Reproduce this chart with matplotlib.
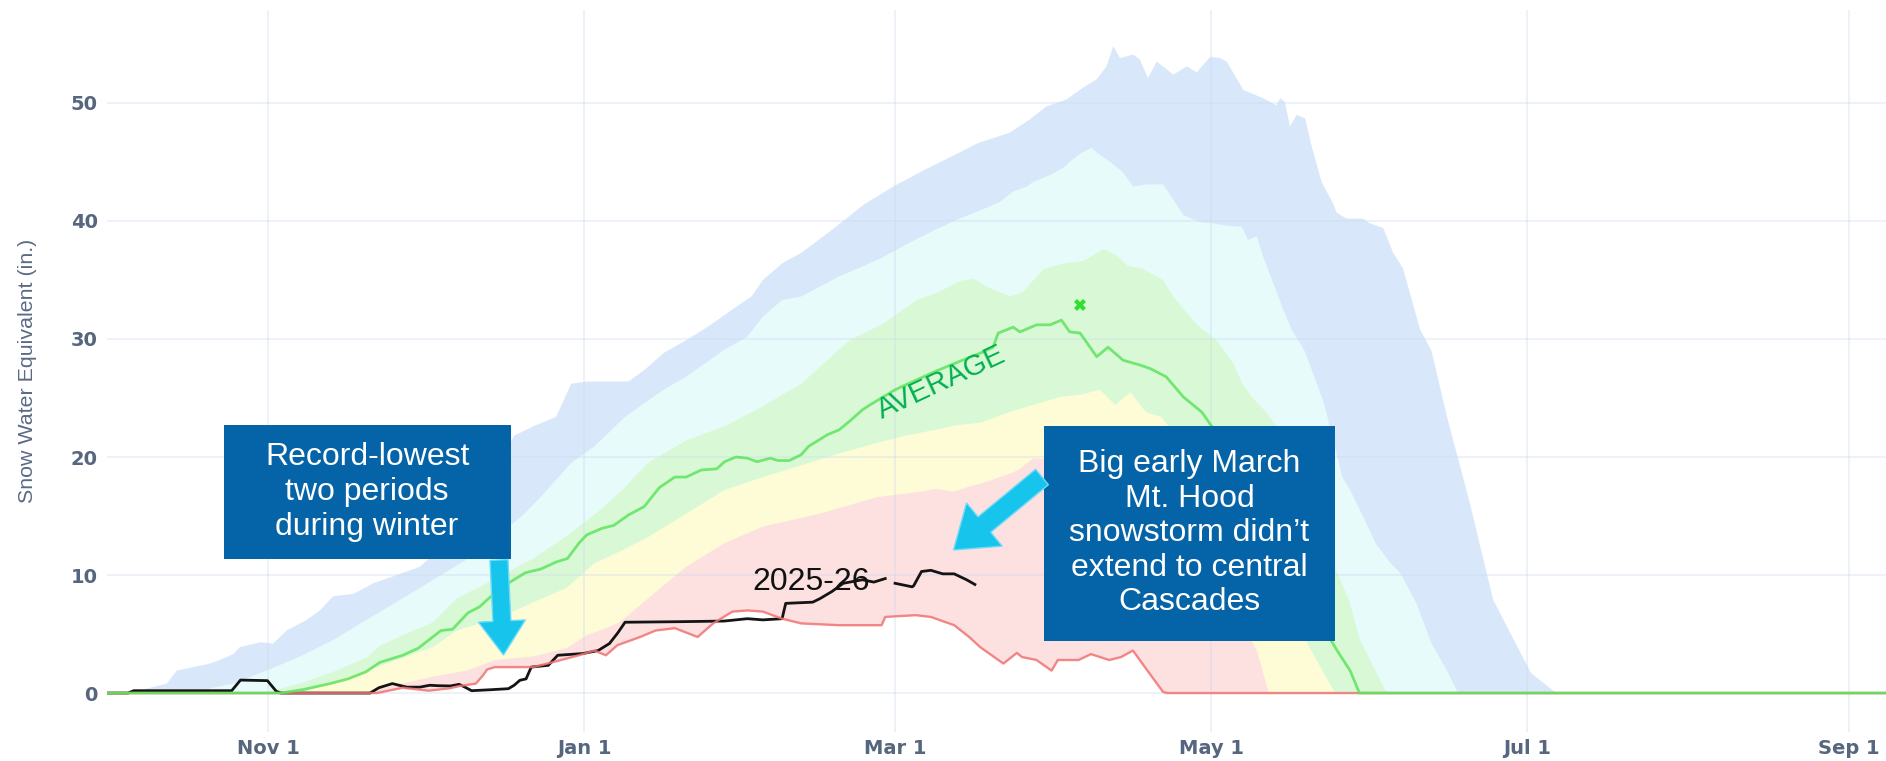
import numpy as np
import matplotlib
matplotlib.use("Agg")
import matplotlib.pyplot as plt
from matplotlib import font_manager
from matplotlib.patches import Rectangle, FancyArrow
from matplotlib.transforms import IdentityTransform

# ---- axis ticks (day of water year, day 0 = Oct 1) ----
month_ticks = [31, 92, 152, 213, 274, 336]
month_labels = ["Nov 1", "Jan 1", "Mar 1", "May 1", "Jul 1", "Sep 1"]
swe_ticks = [0, 10, 20, 30, 40, 50]
swe_labels = ["0", "10", "20", "30", "40", "50"]

# ---- percentile envelopes (inches of SWE) ----
max_days = [0, 5, 11.5, 13.4, 19.8, 21.7, 24.3, 25.6, 29.5, 32, 34.6, 38.5, 41, 43.6, 47.5, 51.3, 56.5, 60.3, 65, 70,
            74, 78.5, 82.2, 86.6, 89.5, 92.5, 100.6, 104, 107.3, 111.7, 116.1, 120.6, 124.3, 126.5, 130.2, 133.9, 140, 146, 152, 158,
            164, 168, 172.2, 174.2, 178, 181.2, 185.1, 188.3, 190.9, 192.8, 194.1, 195.4, 197.9, 199.2, 200.8, 202.5, 205.7, 208.3, 210.2, 212.8,
            214.7, 216, 219.2, 223, 225.6, 226.3, 227.2, 228.2, 229.5, 231.1, 232.4, 234.3, 236.5, 237.2, 239.1, 242.3, 243.6, 246.2, 248.1, 250,
            253.3, 255.5, 258.5, 262.9, 267.4, 274.7, 279, 280, 366]
max_swe = [0, 0.1, 0.8, 1.9, 2.5, 2.8, 3.3, 3.9, 4.3, 4.2, 5.3, 6.2, 7.0, 8.2, 8.4, 9.3, 10.1, 10.7, 12.5, 15.2,
           18.2, 21.8, 22.6, 23.4, 26.2, 26.4, 26.4, 27.5, 28.8, 29.9, 31.1, 32.5, 33.6, 35.0, 36.4, 37.3, 39.3, 41.4, 43.0, 44.4,
           45.7, 46.6, 47.2, 47.5, 48.6, 49.7, 50.3, 51.3, 52.0, 53.1, 54.8, 53.8, 54.1, 53.7, 52.1, 53.5, 52.4, 53.1, 52.6, 53.9,
           53.8, 53.5, 51.1, 50.4, 49.8, 50.4, 50.1, 48.0, 49.0, 48.7, 46.3, 43.3, 41.5, 40.7, 40.2, 40.2, 39.8, 39.4, 37.3, 36.0,
           30.8, 29.0, 23.4, 16.1, 7.9, 1.7, 0.2, 0, 0]

p90_days = [0, 18, 19.8, 24.3, 30.7, 37.2, 43.6, 50, 56.5, 62.9, 69.3, 75.8, 80, 83.6, 89.5, 94, 99.9, 107.3, 111.7, 119.1,
            123.5, 126.5, 130.2, 133.9, 141.2, 148.6, 155, 160, 165, 169, 172.2, 174.8, 177.4, 178.6, 181.9, 184.5, 185.7, 187.7, 189.9, 191.5,
            193.5, 196, 198, 200.5, 203.7, 205.7, 207.6, 210.8, 213.4, 216, 218.9, 220.1, 221.8, 223, 225, 226.9, 228.5, 230.9, 232.9, 234.8,
            238.3, 239.8, 242.7, 244.7, 247.6, 249.6, 252.6, 255.5, 258.5, 260.4, 261, 366]
p90_swe = [0, 0, 0.4, 0.8, 1.9, 3.1, 4.5, 6.2, 7.9, 9.6, 11.3, 13.5, 15.0, 16.6, 19.5, 20.9, 23.4, 25.7, 26.8, 29.1,
           30.2, 31.9, 33.3, 33.6, 35.3, 36.7, 38.2, 39.3, 40.3, 41.0, 41.6, 42.5, 42.9, 43.3, 43.9, 44.5, 45.0, 45.7, 46.2, 45.6,
           45.0, 44.1, 42.9, 43.1, 43.1, 41.8, 40.5, 39.9, 39.8, 39.6, 39.5, 38.4, 38.7, 37.0, 34.7, 32.5, 30.8, 29.1, 26.8, 24.5,
           18.3, 17.2, 14.6, 12.7, 11.0, 10.1, 7.6, 4.2, 1.9, 0.2, 0, 0]

p70_days = [0, 30, 32, 37.2, 43.6, 50, 52.6, 56.5, 62.9, 67.4, 75.8, 82.2, 88.6, 95.1, 98.9, 104.3, 111.7, 119.1, 126.5, 133.9,
            141.2, 143.3, 149.7, 156.2, 160, 164.5, 167.1, 170.3, 174.2, 176.7, 180.6, 184.4, 188.3, 192.2, 194.7, 196.9, 199.5, 203.7, 205.7, 208.3,
            210.5, 214, 217.2, 219, 221, 224, 225.5, 230, 235, 237, 239.5, 241.7, 246.6, 247.5, 366]
p70_swe = [0, 0, 0.2, 0.8, 1.8, 3.0, 4.0, 4.8, 6.0, 8.0, 9.9, 11.4, 13.3, 15.5, 17.0, 19.5, 21.4, 22.6, 24.3, 26.2,
           29.1, 29.9, 31.3, 33.3, 33.9, 34.9, 35.1, 34.3, 33.6, 34.0, 35.9, 36.4, 36.6, 37.6, 37.1, 36.2, 36.0, 35.0, 33.6, 32.2,
           31.1, 29.9, 28.0, 26.2, 25.0, 23.6, 22.6, 18.0, 12.5, 10.5, 8.0, 4.5, 0.2, 0, 0]

p30_days = [0, 38, 38.5, 50, 56.5, 62.9, 67.4, 75.8, 82.2, 88.6, 94, 98.9, 104.3, 111.7, 119.1, 126.5, 133.9, 141.2, 148.6, 154,
            159.7, 164, 168.4, 174, 180, 184, 188, 191.5, 194.5, 197.4, 200.4, 203.3, 204.8, 210, 215, 220, 225, 230, 232.3, 236.9, 366]
p30_swe = [0, 0, 0.2, 1.9, 2.9, 3.9, 5.3, 6.4, 7.7, 8.9, 11.0, 12.0, 13.2, 15.2, 17.2, 18.3, 19.3, 20.3, 21.2, 21.8,
           22.3, 22.7, 22.9, 23.8, 24.6, 25.1, 25.3, 25.7, 24.4, 25.5, 23.8, 23.4, 22.6, 19.5, 16.0, 12.0, 8.5, 5.5, 3.6, 0, 0]

p10_days = [0, 49, 50, 56, 62.9, 69.3, 74.8, 82.2, 88.6, 92.5, 95.1, 98.9, 104.3, 111.7, 119.1, 126.5, 137.5, 148.6, 156.8, 160,
            163.2, 166.4, 169.7, 174.8, 176.1, 178.7, 180.3, 185, 192, 198, 203, 208, 213, 217, 221.8, 224.1, 366]
p10_swe = [0, 0, 0.1, 0.7, 1.4, 1.9, 2.8, 3.1, 3.8, 4.9, 5.3, 6.0, 8.0, 10.7, 12.7, 14.1, 15.2, 16.6, 17.05, 17.3,
           17.05, 17.5, 17.9, 18.7, 19.0, 19.9, 19.8, 20.2, 20.4, 19.8, 18.3, 15.5, 11.5, 7.5, 3.6, 0, 0]

min_days = [0, 52, 54.2, 57, 62, 66, 68, 71.1, 72.5, 73.3, 74.8, 82.2, 85.8, 91, 94, 96.2, 98.4, 102.8, 105.8, 109.5,
            113.9, 116.9, 120.6, 123.5, 126.5, 130.2, 133.9, 141.2, 149.4, 150.1, 156, 158.9, 163.4, 166.3, 168.4, 170, 172.9, 175.5, 176.5, 179.3,
            182.2, 183.4, 187.4, 189.8, 193.3, 195.6, 197.9, 200.2, 203.7, 204.5, 366]
min_swe = [0, 0, 0.2, 0.45, 0.2, 0.4, 0.6, 0.8, 1.5, 2.0, 2.2, 2.2, 2.6, 3.2, 3.6, 3.2, 4.05, 4.75, 5.3, 5.5,
           4.75, 5.9, 6.9, 7.0, 6.9, 6.3, 5.9, 5.75, 5.75, 6.45, 6.6, 6.45, 5.75, 4.75, 3.9, 3.4, 2.5, 3.4, 3.05, 2.8,
           1.9, 2.8, 2.8, 3.3, 2.8, 3.05, 3.6, 2.2, 0.1, 0, 0]

median_days = [0, 33.5, 37.8, 43, 46.4, 49.9, 52.6, 57, 60, 64.4, 66.6, 69.6, 71.8, 74.8, 77.7, 80.7, 83.6, 86.6, 88.8, 91,
               92.5, 95.4, 97.7, 100.6, 103.6, 106.5, 109.5, 111.7, 114.6, 117.6, 119.1, 121.3, 123.5, 125.4, 127.9, 129.4, 131.6, 133.9, 135.3, 139,
               141.2, 143.4, 145.7, 147.1, 152, 156, 160, 165, 169, 170.9, 171.9, 174.8, 176.1, 179.3, 181.9, 184.1, 185.7, 187.7, 190.9, 193.1,
               196, 199.2, 201.2, 204.3, 207.6, 211.2, 213.1, 218, 224, 230, 234, 237.3, 239.8, 241.6, 366]
median_swe = [0, 0, 0.3, 0.8, 1.2, 1.8, 2.6, 3.2, 3.8, 5.3, 5.4, 6.8, 7.3, 8.5, 9.4, 10.2, 10.5, 11.1, 11.4, 12.7,
              13.4, 13.95, 14.2, 15.1, 15.8, 17.4, 18.3, 18.3, 18.9, 19.0, 19.6, 20.0, 19.9, 19.6, 19.9, 19.7, 19.7, 20.2, 20.9, 21.9,
              22.3, 23.1, 24.0, 24.4, 25.7, 26.5, 27.3, 28.2, 28.9, 29.3, 30.5, 31.0, 30.6, 31.2, 31.2, 31.6, 30.6, 30.5, 28.5, 29.3,
              28.2, 27.8, 27.5, 26.8, 25.1, 23.8, 22.6, 19.0, 14.5, 9.5, 6.0, 3.6, 1.9, 0, 0]

median_peak_day = [187.7]
median_peak_swe = [32.9]

# ---- current water year 2025-26 (nan marks a missing reading) ----
current_days = [0, 4, 5.1, 24, 25.7, 30.9, 32.6, 33.5, 50.7, 52.4, 55, 57.8, 60.3, 62.2, 64, 66.2, 67.9, 69, 70.3, 73.9,
                77.4, 78.5, 79.6, 80.8, 81.8, 85.1, 86.9, 91.8, 94.7, 96.9, 98.5, 99.9, 111, 119, 123.5, 126.5, 130.2, 130.9, 136.1, 137.5,
                139.8, 142, 145.7, 147.9, 150.1, 151, 152, 155.3, 155.6, 157.1, 158.9, 161.2, 163.4, 165.8, 167.4]
current_swe = [0, 0, 0.2, 0.2, 1.1, 1.05, 0.15, 0, 0, 0.45, 0.8, 0.5, 0.5, 0.66, 0.62, 0.6, 0.74, 0.5, 0.2, 0.28,
               0.37, 0.66, 1.08, 1.2, 2.2, 2.35, 3.2, 3.35, 3.6, 4.2, 5.1, 6.0, 6.05, 6.1, 6.3, 6.2, 6.3, 7.6, 7.7, 8.0,
               8.6, 9.3, 9.6, 9.4, 9.7, np.nan, 9.3, 9.0, 9.1, 10.3, 10.4, 10.1, 10.1, 9.6, 9.2]


def font_available(name):
    return any(f.name == name for f in font_manager.fontManager.ttflist)


TEXT_FONT = "Liberation Sans" if font_available("Liberation Sans") else "DejaVu Sans"
if font_available("Liberation Sans Narrow"):
    YLABEL_FONT, YLABEL_SIZE = "Liberation Sans Narrow", 18.5
elif TEXT_FONT == "Liberation Sans":
    YLABEL_FONT, YLABEL_SIZE = "Liberation Sans", 15.4
else:
    YLABEL_FONT, YLABEL_SIZE = "DejaVu Sans", 13.8

W, H = 1886, 761
fig = plt.figure(figsize=(W / 100, H / 100), dpi=100)
fig.patch.set_facecolor("white")

ax_left, ax_top, ax_bottom = 107.3, 9.7, 732.0
ax = fig.add_axes([ax_left / W, (H - ax_bottom) / H, 1 - ax_left / W, (ax_bottom - ax_top) / H])
ax.set_xlim(0, 343.2)
ax.set_ylim(-3.3, 57.9)


def band(top_d, top_v, low_d, low_v):
    xs = np.concatenate([np.asarray(top_d, float), np.asarray(low_d, float)[::-1]])
    ys = np.concatenate([np.asarray(top_v, float), np.asarray(low_v, float)[::-1]])
    return xs, ys


# Stacked percentile bands, each reaching down to the record-low line
band_specs = [
    (max_days, max_swe, "#d8e8fa"),
    (p90_days, p90_swe, "#e7fbfb"),
    (p70_days, p70_swe, "#d9f9d6"),
    (p30_days, p30_swe, "#fdfcd6"),
    (p10_days, p10_swe, "#fde0e0"),
]
for k, (dd, vv, col) in enumerate(band_specs):
    xs, ys = band(dd, vv, min_days, min_swe)
    ax.fill(xs, ys, color=col, lw=0, zorder=1 + 0.01 * k)

# light grid drawn through the bands
grid_kw = dict(color=(0.80, 0.85, 0.93), alpha=0.38, lw=1.3, zorder=2)
for t in month_ticks:
    ax.axvline(t, **grid_kw)
for t in swe_ticks:
    ax.axhline(t, **grid_kw)

ax.plot(current_days, current_swe, color="#141414", lw=2.0, zorder=3, solid_joinstyle="round")
ax.plot(min_days, min_swe, color="#f07474", lw=1.7, alpha=0.85, zorder=4)
ax.plot(median_days, median_swe, color="#5fe35f", lw=2.0, alpha=0.85, zorder=4)
ax.plot(median_peak_day, median_peak_swe, ls="none", marker="X", ms=9, color="#2fe02f",
        markeredgewidth=0, zorder=5)

ax.set_xticks(month_ticks)
ax.set_xticklabels(month_labels)
ax.set_yticks(swe_ticks)
ax.set_yticklabels(swe_labels)
ax.tick_params(length=0, labelsize=14, labelcolor="#56667f", pad=7)
ax.tick_params(axis="x", pad=5)
for lab in ax.get_xticklabels() + ax.get_yticklabels():
    lab.set_fontfamily("DejaVu Sans")
    lab.set_fontweight("bold")
for s in ax.spines.values():
    s.set_visible(False)
ax.set_facecolor("none")

fig.text(28 / W, 1 - 371 / H, "Snow Water Equivalent (in.)", rotation=90, ha="center", va="center",
         fontsize=YLABEL_SIZE, color="#5a6a84", family=YLABEL_FONT)

# in-plot labels
ax.text(135.8, 8.71, "2025-26", ha="center", va="baseline", fontsize=23,
        family=TEXT_FONT, color="#111111", zorder=6)
ax.text(161.0, 26.3, "AVERAGE", ha="center", va="center", rotation=25, rotation_mode="anchor",
        fontsize=21, family=TEXT_FONT, color="#00b050", zorder=6)


# ---- callout boxes and arrows (pixel positions measured from the top-left) ----
def px(x, y):
    return x, H - y


def callout(x0, y0, x1, y1, text):
    bx, by = px(x0, y1)
    fig.add_artist(Rectangle((bx, by), x1 - x0, y1 - y0, transform=IdentityTransform(),
                             facecolor="#0563a8", edgecolor="none", zorder=10))
    cx, cy = px((x0 + x1) / 2, (y0 + y1) / 2)
    fig.text(cx / W, cy / H, text, ha="center", va="center", multialignment="center",
             fontsize=23, family=TEXT_FONT, color="white", linespacing=1.2, zorder=11)


def block_arrow(tail, tip, width, head_width, head_length):
    tx, ty = px(*tail)
    hx, hy = px(*tip)
    fig.add_artist(FancyArrow(tx, ty, hx - tx, hy - ty, width=width, head_width=head_width,
                              head_length=head_length, length_includes_head=True,
                              transform=IdentityTransform(), facecolor="#17c4ec",
                              edgecolor="#6fdcf7", lw=1.0, zorder=10))


callout(223.5, 424.6, 510.7, 559.3, "Record-lowest\ntwo periods\nduring winter")
callout(1044.0, 426.0, 1335.0, 640.5, "Big early March\nMt. Hood\nsnowstorm didn\u2019t\nextend to central\nCascades")
block_arrow((499.0, 560.0), (503.5, 655.0), 18, 47, 34)
block_arrow((1042.0, 477.0), (953.5, 550.0), 20, 56, 40)

fig.savefig("out.png", dpi=100, facecolor="white")
